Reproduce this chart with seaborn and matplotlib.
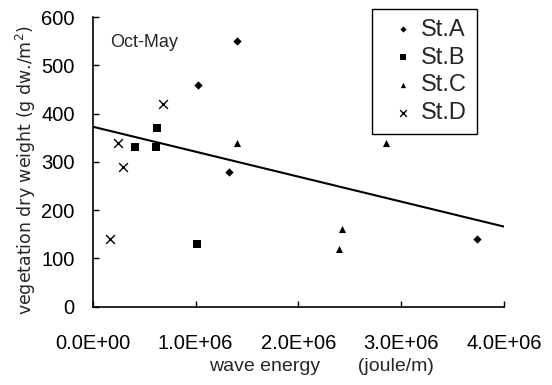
import matplotlib
matplotlib.use("Agg")
import matplotlib.pyplot as plt
from matplotlib.ticker import FuncFormatter
import numpy as np
import pandas as pd
import seaborn as sns

# data (wave energy in joule/m, dry weight in g dw./m2)
stations = ["St.A", "St.B", "St.C", "St.D"]
st_a_x = [1.02e6, 1.40e6, 1.33e6, 3.74e6]
st_a_y = [460, 550, 280, 140]
st_b_x = [0.41e6, 0.62e6, 0.625e6, 1.01e6]
st_b_y = [330, 330, 370, 130]
st_c_x = [1.40e6, 2.85e6, 2.42e6, 2.40e6]
st_c_y = [340, 340, 160, 120]
st_d_x = [0.17e6, 0.25e6, 0.29e6, 0.684e6]
st_d_y = [140, 340, 290, 420]

# fitted trend line as drawn in the figure
line_intercept = 373.0
line_slope = -51.75e-6

xticks = [0, 1e6, 2e6, 3e6, 4e6]
yticks = [0, 100, 200, 300, 400, 500, 600]

#%%
frames = []
for name, xs, ys in zip(stations,
                        [st_a_x, st_b_x, st_c_x, st_d_x],
                        [st_a_y, st_b_y, st_c_y, st_d_y]):
    frames.append(pd.DataFrame({"energy": xs, "weight": ys, "station": name}))
df = pd.concat(frames, ignore_index=True)

line_x = np.array([xticks[0], xticks[-1]])
line_df = pd.DataFrame({"energy": line_x, "weight": line_intercept + line_slope * line_x})

sns.set_theme(style="ticks")
plt.rcParams["font.family"] = ["Liberation Sans", "DejaVu Sans"]

fig = plt.figure(figsize=(5.52, 3.85), dpi=100)
ax = fig.add_axes([0.168, 0.2034, 0.745, 0.752])

markers = {"St.A": "D", "St.B": "s", "St.C": "^", "St.D": "x"}
sizes = {"St.A": 18, "St.B": 26, "St.C": 26, "St.D": 40}
for name in stations:
    sub = df[df["station"] == name]
    sns.scatterplot(data=sub, x="energy", y="weight", marker=markers[name],
                    s=sizes[name], color="black", edgecolor="black",
                    linewidth=1.0 if name == "St.D" else 0, label=name, ax=ax)

sns.lineplot(data=line_df, x="energy", y="weight", color="black", lw=1.5, ax=ax)

ax.set_xlim(0, 4e6)
ax.set_ylim(0, 600)
ax.set_xticks(xticks)
ax.set_yticks(yticks)
ax.xaxis.set_major_formatter(FuncFormatter(lambda v, p: f"{v:.1E}"))
ax.tick_params(direction="in", length=4, width=1, labelsize=14.5, colors="black")
ax.tick_params(axis="x", pad=20)
ax.tick_params(axis="y", pad=13)
for s in ["top", "right"]:
    ax.spines[s].set_visible(False)
for s in ["left", "bottom"]:
    ax.spines[s].set_linewidth(1.2)
    ax.spines[s].set_color("black")

ax.set_xlabel("wave energy       (joule/m)", fontsize=14)
ax.xaxis.set_label_coords(0.557, -0.178)
ax.set_ylabel("vegetation dry weight (g dw./m$^2$)", fontsize=12.5, family="DejaVu Sans")
ax.yaxis.set_label_coords(-0.132, 0.47)

ax.text(0.042, 0.912, "Oct-May", transform=ax.transAxes, fontsize=13, va="center")

leg = ax.legend(loc="upper right", bbox_to_anchor=(0.934, 1.029), borderaxespad=0,
                fontsize=17, frameon=True, fancybox=False, edgecolor="black",
                framealpha=1, handletextpad=-0.11, handlelength=1.75,
                labelspacing=0.25, borderpad=0.42, markerscale=0.75)
leg.get_frame().set_linewidth(1.0)

fig.savefig("out.png", dpi=100)
